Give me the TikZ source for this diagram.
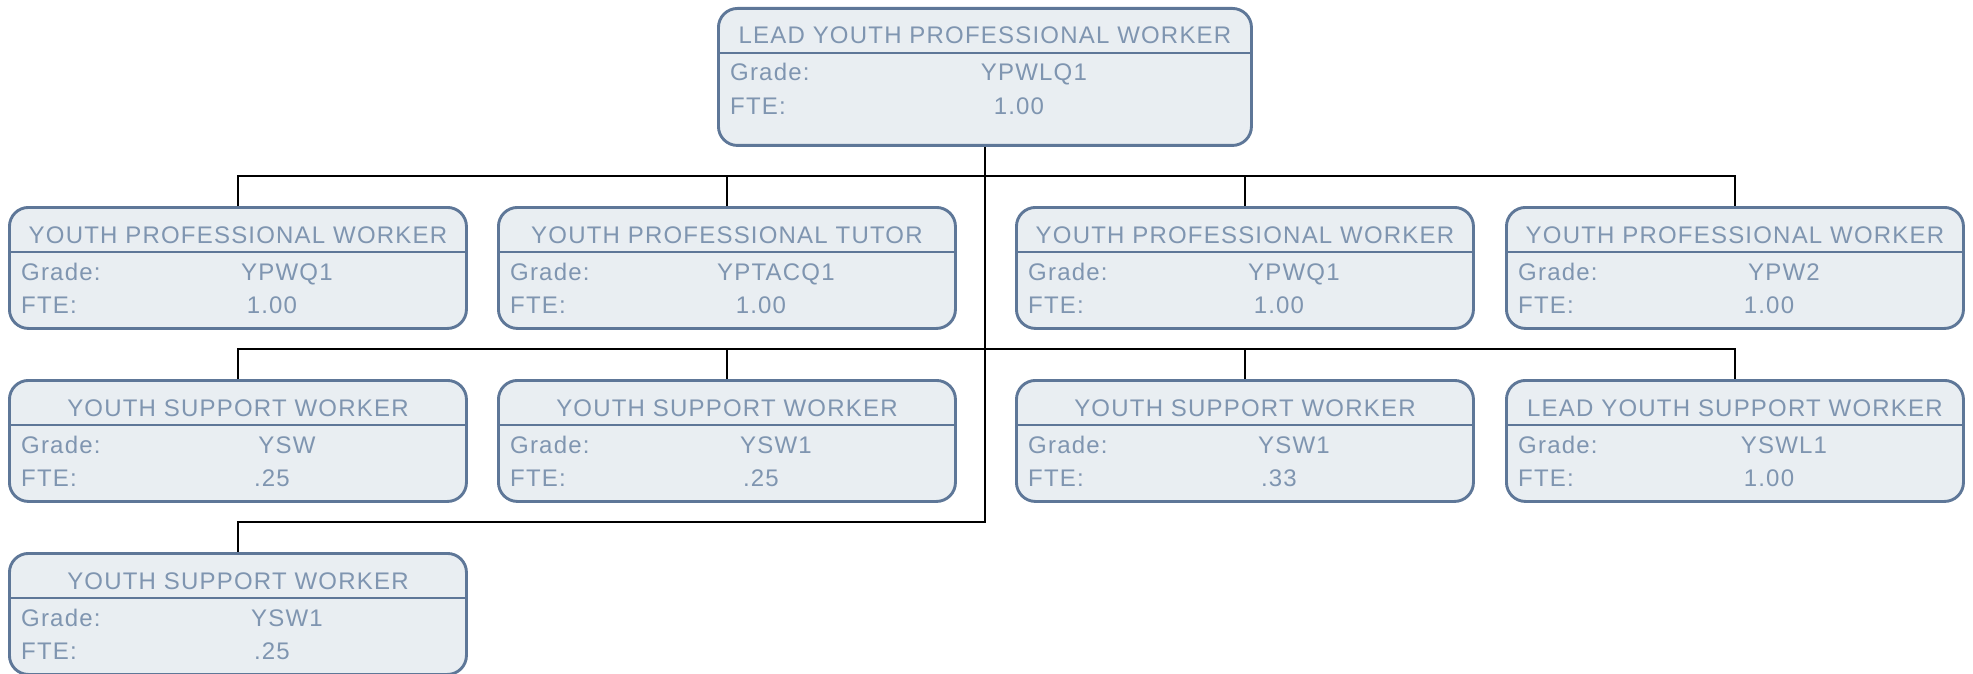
\documentclass[tikz,border=0pt]{standalone}
\usepackage{fontspec}
\setmainfont{Liberation Sans}[LetterSpace=5]
\definecolor{boxfill}{HTML}{E9EEF2}
\definecolor{boxline}{HTML}{5E7798}
\definecolor{boxtext}{HTML}{7F95B0}
\tikzset{
  orgbox/.style={draw=boxline, fill=boxfill, line width=2.9pt, rounded corners=19pt, inner sep=0pt, anchor=north west},
  divline/.style={draw=boxline, line width=2.6pt},
  txt/.style={inner sep=0pt, text=boxtext, font=\fontsize{24}{28}\selectfont},
  conn/.style={draw=black, line width=2.5pt},
}
% name, x, y, width, height, title, grade, fte
\newcommand\orgunit[8]{%
  \node[orgbox, minimum width=#4pt, minimum height=#5pt] (#1) at (#2,#3) {};
  \draw[divline] ([yshift=-46pt]#1.north west) -- ([yshift=-46pt]#1.north east);
  \node[txt, anchor=base] (#1-t) at ([yshift=-37pt]#1.north) {#6};
  \node[txt, anchor=base west] (#1-gl) at ([xshift=13pt,yshift=-74pt]#1.north west) {Grade:};
  \node[txt, anchor=base] (#1-gv) at ([xshift=49pt,yshift=-74pt]#1.north) {#7};
  \node[txt, anchor=base west] (#1-fl) at ([xshift=13pt,yshift=-107.5pt]#1.north west) {FTE:};
  \node[txt, anchor=base] (#1-fv) at ([xshift=34pt,yshift=-107.5pt]#1.north) {#8};
}
\begin{document}
\begin{tikzpicture}[x=1pt,y=-1pt]
\useasboundingbox (0,0) rectangle (1973,674);
\orgunit{top}{717}{7}{533}{137}{LEAD YOUTH PROFESSIONAL WORKER}{YPWLQ1}{1.00}
\orgunit{ra}{8}{206}{457}{121}{YOUTH PROFESSIONAL WORKER}{YPWQ1}{1.00}
\orgunit{rb}{497}{206}{457}{121}{YOUTH PROFESSIONAL TUTOR}{YPTACQ1}{1.00}
\orgunit{rc}{1015}{206}{457}{121}{YOUTH PROFESSIONAL WORKER}{YPWQ1}{1.00}
\orgunit{rd}{1505}{206}{457}{121}{YOUTH PROFESSIONAL WORKER}{YPW2}{1.00}
\orgunit{sa}{8}{379}{457}{121}{YOUTH SUPPORT WORKER}{YSW}{.25}
\orgunit{sb}{497}{379}{457}{121}{YOUTH SUPPORT WORKER}{YSW1}{.25}
\orgunit{sc}{1015}{379}{457}{121}{YOUTH SUPPORT WORKER}{YSW1}{.33}
\orgunit{sd}{1505}{379}{457}{121}{LEAD YOUTH SUPPORT WORKER}{YSWL1}{1.00}
\orgunit{ta}{8}{552}{457}{121}{YOUTH SUPPORT WORKER}{YSW1}{.25}
\coordinate (j1) at (top.south |- 0,176);
\coordinate (j2) at (top.south |- 0,349);
\coordinate (j3) at (top.south |- 0,522);
\draw[conn] (top.south) -- (j3) -| (ta.north);
\draw[conn] (ra.north) |- (j1) -| (rd.north);
\draw[conn] (rb.north) |- (j1);
\draw[conn] (rc.north) |- (j1);
\draw[conn] (sa.north) |- (j2) -| (sd.north);
\draw[conn] (sb.north) |- (j2);
\draw[conn] (sc.north) |- (j2);
\end{tikzpicture}
\end{document}
